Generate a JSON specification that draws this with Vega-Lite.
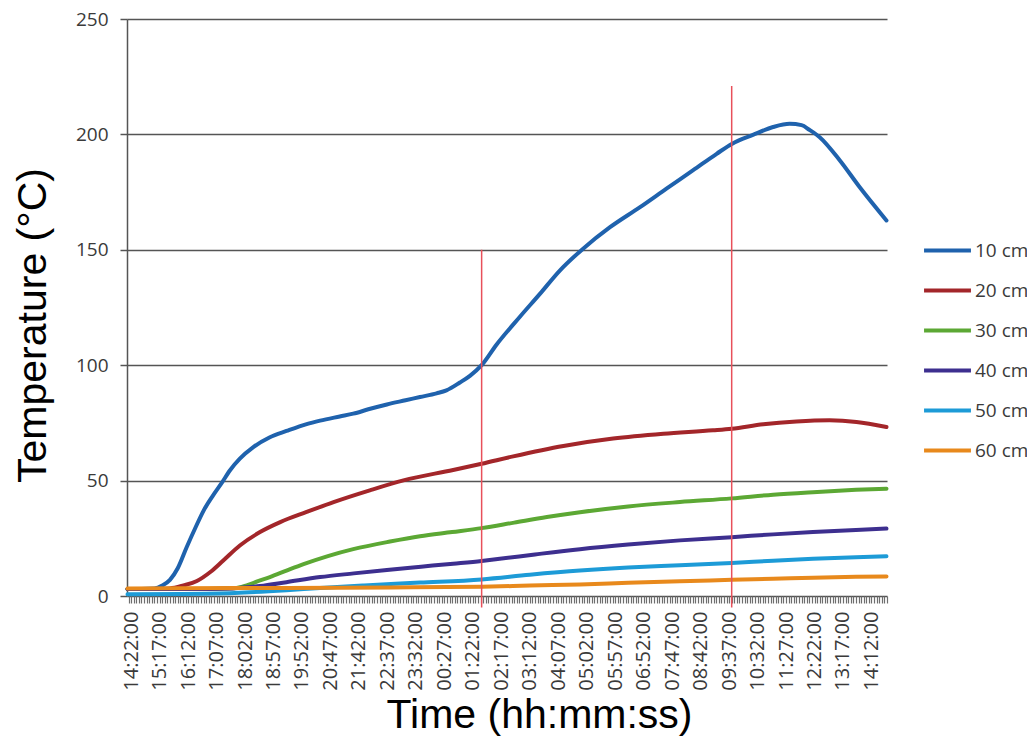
{
  "$schema": "https://vega.github.io/schema/vega-lite/v6.json",
  "autosize": {"type": "none"},
  "width": 760,
  "height": 577,
  "padding": {"left": 127, "top": 19, "right": 140, "bottom": 141},
  "background": "white",
  "config": {"view": {"stroke": null}},
  "datasets": {
    "temps": [
      {"depth": "10 cm", "t": -7, "v": 3.0}, {"depth": "10 cm", "t": 20, "v": 3.0}, {"depth": "10 cm", "t": 45, "v": 3.2},
      {"depth": "10 cm", "t": 60, "v": 4.5}, {"depth": "10 cm", "t": 75, "v": 7}, {"depth": "10 cm", "t": 90, "v": 12},
      {"depth": "10 cm", "t": 107, "v": 21}, {"depth": "10 cm", "t": 125, "v": 30}, {"depth": "10 cm", "t": 140, "v": 37},
      {"depth": "10 cm", "t": 158, "v": 43.5}, {"depth": "10 cm", "t": 175, "v": 49}, {"depth": "10 cm", "t": 191, "v": 54.5},
      {"depth": "10 cm", "t": 210, "v": 59.5}, {"depth": "10 cm", "t": 236, "v": 64.5}, {"depth": "10 cm", "t": 268, "v": 68.8},
      {"depth": "10 cm", "t": 300, "v": 71.5}, {"depth": "10 cm", "t": 339, "v": 74.5}, {"depth": "10 cm", "t": 365, "v": 76},
      {"depth": "10 cm", "t": 403, "v": 77.8}, {"depth": "10 cm", "t": 429, "v": 79}, {"depth": "10 cm", "t": 460, "v": 81},
      {"depth": "10 cm", "t": 494, "v": 83}, {"depth": "10 cm", "t": 530, "v": 84.8}, {"depth": "10 cm", "t": 558, "v": 86.2},
      {"depth": "10 cm", "t": 590, "v": 87.8}, {"depth": "10 cm", "t": 609, "v": 89.1}, {"depth": "10 cm", "t": 635, "v": 92.5},
      {"depth": "10 cm", "t": 655, "v": 95.5}, {"depth": "10 cm", "t": 677, "v": 100}, {"depth": "10 cm", "t": 706, "v": 109},
      {"depth": "10 cm", "t": 751, "v": 121}, {"depth": "10 cm", "t": 790, "v": 131}, {"depth": "10 cm", "t": 828, "v": 141},
      {"depth": "10 cm", "t": 873, "v": 150.5}, {"depth": "10 cm", "t": 925, "v": 159.8}, {"depth": "10 cm", "t": 983, "v": 168.5},
      {"depth": "10 cm", "t": 1034, "v": 176.5}, {"depth": "10 cm", "t": 1085, "v": 184.4}, {"depth": "10 cm", "t": 1131, "v": 191.6},
      {"depth": "10 cm", "t": 1161, "v": 196}, {"depth": "10 cm", "t": 1201, "v": 199.8}, {"depth": "10 cm", "t": 1240, "v": 203.2},
      {"depth": "10 cm", "t": 1272, "v": 204.6}, {"depth": "10 cm", "t": 1295, "v": 204}, {"depth": "10 cm", "t": 1310, "v": 202},
      {"depth": "10 cm", "t": 1330, "v": 198.8}, {"depth": "10 cm", "t": 1369, "v": 188.7}, {"depth": "10 cm", "t": 1407, "v": 177.2},
      {"depth": "10 cm", "t": 1459, "v": 162.7},

      {"depth": "20 cm", "t": -7, "v": 3.0}, {"depth": "20 cm", "t": 40, "v": 3.0}, {"depth": "20 cm", "t": 75, "v": 3.3},
      {"depth": "20 cm", "t": 101, "v": 4.6}, {"depth": "20 cm", "t": 127, "v": 6.5}, {"depth": "20 cm", "t": 153, "v": 10.4},
      {"depth": "20 cm", "t": 178, "v": 15.4}, {"depth": "20 cm", "t": 210, "v": 21.9}, {"depth": "20 cm", "t": 249, "v": 27.7},
      {"depth": "20 cm", "t": 288, "v": 32}, {"depth": "20 cm", "t": 339, "v": 36.4}, {"depth": "20 cm", "t": 391, "v": 40.7},
      {"depth": "20 cm", "t": 461, "v": 45.8}, {"depth": "20 cm", "t": 526, "v": 50.1}, {"depth": "20 cm", "t": 622, "v": 54.6},
      {"depth": "20 cm", "t": 677, "v": 57.3}, {"depth": "20 cm", "t": 738, "v": 60.5}, {"depth": "20 cm", "t": 835, "v": 65.0},
      {"depth": "20 cm", "t": 931, "v": 68.2}, {"depth": "20 cm", "t": 1028, "v": 70.3}, {"depth": "20 cm", "t": 1124, "v": 71.8},
      {"depth": "20 cm", "t": 1160, "v": 72.5}, {"depth": "20 cm", "t": 1221, "v": 74.4}, {"depth": "20 cm", "t": 1285, "v": 75.6},
      {"depth": "20 cm", "t": 1349, "v": 76.1}, {"depth": "20 cm", "t": 1401, "v": 75.4}, {"depth": "20 cm", "t": 1459, "v": 73.2},

      {"depth": "30 cm", "t": -7, "v": 3.0}, {"depth": "30 cm", "t": 100, "v": 3.0}, {"depth": "30 cm", "t": 200, "v": 3.4},
      {"depth": "30 cm", "t": 223, "v": 4.6}, {"depth": "30 cm", "t": 245, "v": 6.4}, {"depth": "30 cm", "t": 268, "v": 8.2},
      {"depth": "30 cm", "t": 300, "v": 11}, {"depth": "30 cm", "t": 333, "v": 13.8}, {"depth": "30 cm", "t": 380, "v": 17.3},
      {"depth": "30 cm", "t": 429, "v": 20.3}, {"depth": "30 cm", "t": 500, "v": 23.6}, {"depth": "30 cm", "t": 558, "v": 25.9},
      {"depth": "30 cm", "t": 620, "v": 27.7}, {"depth": "30 cm", "t": 677, "v": 29.4}, {"depth": "30 cm", "t": 740, "v": 31.8},
      {"depth": "30 cm", "t": 803, "v": 34.2}, {"depth": "30 cm", "t": 867, "v": 36.3}, {"depth": "30 cm", "t": 960, "v": 38.8},
      {"depth": "30 cm", "t": 1060, "v": 40.7}, {"depth": "30 cm", "t": 1160, "v": 42.3}, {"depth": "30 cm", "t": 1240, "v": 43.9},
      {"depth": "30 cm", "t": 1317, "v": 45}, {"depth": "30 cm", "t": 1400, "v": 46}, {"depth": "30 cm", "t": 1459, "v": 46.5},

      {"depth": "40 cm", "t": -7, "v": 3.0}, {"depth": "40 cm", "t": 150, "v": 3.0}, {"depth": "40 cm", "t": 249, "v": 4.3},
      {"depth": "40 cm", "t": 300, "v": 6}, {"depth": "40 cm", "t": 365, "v": 8.2}, {"depth": "40 cm", "t": 430, "v": 9.8},
      {"depth": "40 cm", "t": 494, "v": 11.3}, {"depth": "40 cm", "t": 560, "v": 12.7}, {"depth": "40 cm", "t": 622, "v": 14},
      {"depth": "40 cm", "t": 677, "v": 15.2}, {"depth": "40 cm", "t": 712, "v": 16.1}, {"depth": "40 cm", "t": 780, "v": 18},
      {"depth": "40 cm", "t": 867, "v": 20.3}, {"depth": "40 cm", "t": 960, "v": 22.3}, {"depth": "40 cm", "t": 1060, "v": 24.1},
      {"depth": "40 cm", "t": 1160, "v": 25.5}, {"depth": "40 cm", "t": 1240, "v": 26.7}, {"depth": "40 cm", "t": 1317, "v": 27.7},
      {"depth": "40 cm", "t": 1400, "v": 28.6}, {"depth": "40 cm", "t": 1459, "v": 29.2},

      {"depth": "50 cm", "t": -7, "v": 0.8}, {"depth": "50 cm", "t": 100, "v": 0.9}, {"depth": "50 cm", "t": 200, "v": 1.3},
      {"depth": "50 cm", "t": 300, "v": 2.5}, {"depth": "50 cm", "t": 365, "v": 3.5}, {"depth": "50 cm", "t": 450, "v": 4.6},
      {"depth": "50 cm", "t": 558, "v": 5.8}, {"depth": "50 cm", "t": 677, "v": 7.2}, {"depth": "50 cm", "t": 770, "v": 9.2},
      {"depth": "50 cm", "t": 867, "v": 11}, {"depth": "50 cm", "t": 960, "v": 12.3}, {"depth": "50 cm", "t": 1060, "v": 13.3},
      {"depth": "50 cm", "t": 1160, "v": 14.3}, {"depth": "50 cm", "t": 1240, "v": 15.3}, {"depth": "50 cm", "t": 1317, "v": 16.1},
      {"depth": "50 cm", "t": 1400, "v": 16.8}, {"depth": "50 cm", "t": 1459, "v": 17.2},

      {"depth": "60 cm", "t": -7, "v": 3.3}, {"depth": "60 cm", "t": 100, "v": 3.4}, {"depth": "60 cm", "t": 300, "v": 3.5},
      {"depth": "60 cm", "t": 500, "v": 3.7}, {"depth": "60 cm", "t": 677, "v": 4}, {"depth": "60 cm", "t": 770, "v": 4.5},
      {"depth": "60 cm", "t": 867, "v": 5}, {"depth": "60 cm", "t": 960, "v": 5.7}, {"depth": "60 cm", "t": 1060, "v": 6.4},
      {"depth": "60 cm", "t": 1160, "v": 7}, {"depth": "60 cm", "t": 1240, "v": 7.5}, {"depth": "60 cm", "t": 1317, "v": 7.9},
      {"depth": "60 cm", "t": 1400, "v": 8.3}, {"depth": "60 cm", "t": 1459, "v": 8.5}
    ],
    "markers": [
      {"t": 677, "low": -5, "high": 150},
      {"t": 1160, "high": 221, "low": -5}
    ]
  },
  "layer": [
    {
      "data": {"name": "temps"},
      "mark": {"type": "line", "strokeWidth": 4, "interpolate": "monotone", "strokeCap": "round"},
      "encoding": {
        "x": {
          "field": "t", "type": "quantitative",
          "scale": {"domain": [-8, 1460], "nice": false, "zero": false},
          "axis": {
            "title": "Time (hh:mm:ss)",
            "tickCount": 300,
            "grid": false,
            "domain": false,
            "ticks": true, "tickSize": 7, "tickColor": "#6e6e6e", "tickWidth": 1.2,
            "labelExpr": "datum.value % 55 == 0 ? timeFormat(datetime(2020, 0, 1, 14, 22 + datum.value), '%H:%M:%S') : ''",
            "labelAngle": -90, "labelOverlap": false, "labelFlush": false, "labelBound": false,
            "labelFont": "Open Sans", "labelFontSize": 20, "labelColor": "#3a3a3a", "labelPadding": 8,
            "titleFont": "Liberation Sans", "titleFontSize": 41, "titleFontWeight": "normal", "titleColor": "#000000",
            "titleX": 412, "titleY": 131, "titleBaseline": "alphabetic", "titleAlign": "center"
          }
        },
        "y": {
          "field": "v", "type": "quantitative",
          "scale": {"domain": [0, 250], "nice": false},
          "axis": {
            "title": "Temperature (°C)",
            "values": [0, 50, 100, 150, 200, 250],
            "grid": true, "gridColor": "#555555", "gridWidth": 1.5,
            "domain": true, "domainColor": "#555555", "domainWidth": 1.5,
            "ticks": true, "tickSize": 7, "tickColor": "#555555", "tickWidth": 1.5,
            "labelFont": "Open Sans", "labelFontSize": 19, "labelColor": "#3a3a3a", "labelPadding": 12,
            "titleFont": "Liberation Sans", "titleFontSize": 41, "titleFontWeight": "normal", "titleColor": "#000000",
            "titleAngle": -90, "titleX": -82, "titleY": 306, "titleBaseline": "alphabetic", "titleAlign": "center"
          }
        },
        "color": {
          "field": "depth", "type": "nominal",
          "scale": {
            "domain": ["10 cm", "20 cm", "30 cm", "40 cm", "50 cm", "60 cm"],
            "range": ["#1f62ad", "#a3262a", "#5ca834", "#3d2f8f", "#1d9bd7", "#e8891c"]
          },
          "legend": {
            "title": null, "orient": "none", "legendX": 795, "legendY": 206,
            "symbolType": "stroke", "symbolStrokeWidth": 4, "symbolSize": 2200,
            "labelFont": "Open Sans", "labelFontSize": 19, "labelColor": "#3a3a3a",
            "labelOffset": 2, "rowPadding": 4
          }
        }
      }
    },
    {
      "data": {"name": "markers"},
      "mark": {"type": "rule", "color": "#e8505a", "strokeWidth": 1.5, "clip": false},
      "encoding": {
        "x": {"field": "t", "type": "quantitative"},
        "y": {"field": "low", "type": "quantitative"},
        "y2": {"field": "high"}
      }
    }
  ]
}
